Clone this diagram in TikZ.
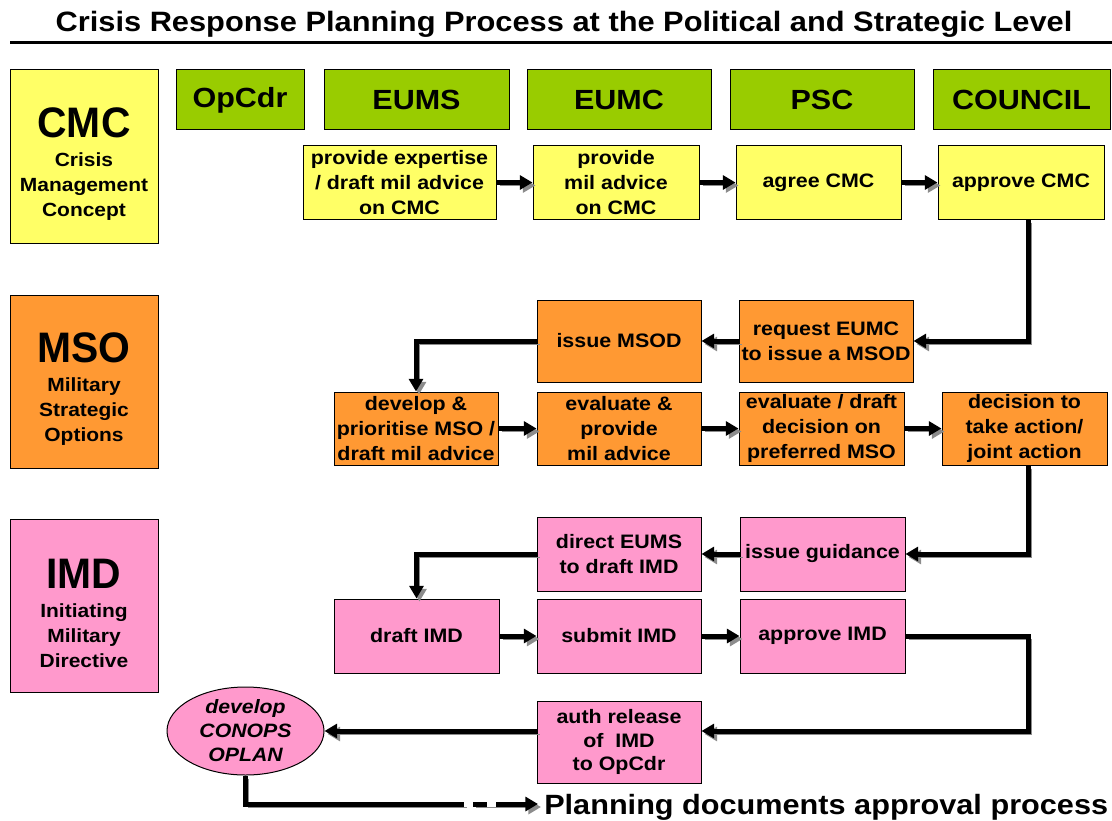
\documentclass[tikz,border=0pt]{standalone}
\usepackage{graphicx}
\usepackage{fontspec}
\setmainfont{Liberation Sans}[FakeStretch=1.1]
\usetikzlibrary{arrows.meta,calc,shapes.geometric}
\definecolor{cyel}{HTML}{FFFF66}
\definecolor{cgrn}{HTML}{99CC00}
\definecolor{corg}{HTML}{FF9933}
\definecolor{cpnk}{HTML}{FF99CC}
\definecolor{cshd}{HTML}{8C8C8C}
\newcommand{\biglab}[1]{\rule{0pt}{34pt}\scalebox{0.87}[1]{\fontsize{32}{32}\selectfont #1}}
\begin{document}
\begin{tikzpicture}[x=0.75pt,y=-0.75pt,
 every node/.style={inner sep=0pt, text=black},
 sz/.style 2 args={minimum width=#1*0.75pt, minimum height=#2*0.75pt},
 box/.style={draw=black, line width=0.75pt, align=center, font=\bfseries\fontsize{14.6}{18.75}\selectfont},
 ybox/.style={box, fill=cyel},
 obox/.style={box, fill=corg},
 pbox/.style={box, fill=cpnk},
 hbox/.style={draw=black, line width=0.75pt, fill=cgrn, font=\bfseries\fontsize{20.8}{24}\selectfont},
 lbox/.style={draw=black, line width=0.75pt, align=center, font=\bfseries\fontsize{14.3}{18.75}\selectfont},
 wire/.style={line width=3.75pt, preaction={draw=cshd, transform canvas={shift={(2.25pt,-2.25pt)}}}},
 conn/.style={wire, -{Triangle[length=9.5pt,width=10.5pt]}},
]
\useasboundingbox (0,0) rectangle (1112,820);

% title
\node[anchor=base, font=\bfseries\fontsize{21}{24}\selectfont] (title) at (564,31.7) {Crisis Response Planning Process at the Political and Strategic Level};
\draw[line width=2.25pt] (10,43) -- (1112,43);

% left column
\node[lbox, fill=cyel, sz={148}{173}] (lcmc) at (84,156.5) {\biglab{CMC}\\[3pt]Crisis\\Management\\Concept};
\node[lbox, fill=corg, sz={148}{173}] (lmso) at (84,381.5) {\biglab{MSO}\\[3pt]Military\\Strategic\\Options};
\node[lbox, fill=cpnk, sz={148}{173}] (limd) at (84,605.5) {\biglab{IMD}\\[3pt]Initiating\\Military\\Directive};

% headers
\node[hbox, sz={128}{60}] (hop) at (240,100) {OpCdr};
\node[hbox, sz={185}{60}] (heums) at (416.5,100) {EUMS};
\node[hbox, sz={184}{60}] (heumc) at (619,100) {EUMC};
\node[hbox, sz={184}{60}] (hpsc) at (822,100) {PSC};
\node[hbox, sz={177}{60}] (hcou) at (1021.5,100) {COUNCIL};

% row 1
\node[ybox, sz={193}{73}] (r1a) at (399.5,182.5) {provide expertise\\/ draft mil advice\\on CMC};
\node[ybox, sz={166}{73}] (r1b) at (616,182.5) {provide\\mil advice\\on CMC};
\node[ybox, sz={165}{73}] (r1c) at (818.5,182.5) {agree CMC};
\node[ybox, sz={166}{73}] (r1d) at (1021,182.5) {approve CMC};

% row 2
\node[obox, sz={164}{82}] (msod) at (619,341) {issue MSOD};
\node[obox, sz={174}{82}] (req) at (826,341) {request EUMC\\to issue a MSOD};

% row 3
\node[obox, sz={164}{73}] (dev) at (416,428.5) {develop \&\\prioritise MSO /\\draft mil advice};
\node[obox, sz={164}{73}] (ev1) at (619,428.5) {evaluate \&\\provide\\mil advice};
\node[obox, sz={165}{73}] (ev2) at (821.5,428.5) {evaluate / draft\\decision on\\preferred MSO};
\node[obox, sz={165}{73}] (dec) at (1024.5,428.5) {decision to\\take action/\\joint action};

% row 4
\node[pbox, sz={164}{74}] (dir) at (619,554) {direct EUMS\\to draft IMD};
\node[pbox, sz={165}{74}] (guid) at (822.5,554) {issue guidance};

% row 5
\node[pbox, sz={165}{74}] (dimd) at (416.5,636) {draft IMD};
\node[pbox, sz={164}{74}] (simd) at (619,636) {submit IMD};
\node[pbox, sz={165}{74}] (aimd) at (822.5,636) {approve IMD};

% row 6
\node[pbox, sz={164}{82}, font=\bfseries\fontsize{14.6}{17.6}\selectfont] (auth) at (619,742) {auth release\\of~ IMD\\to OpCdr};
\node[ellipse, draw=black, line width=0.75pt, fill=cpnk, sz={157}{88}] (ell) at (245.5,731) {};
\node[align=center, font=\bfseries\itshape\fontsize{14.5}{18}\selectfont] (elltxt) at (ell.center) {develop\\CONOPS\\OPLAN};

\node[anchor=base west, font=\bfseries\fontsize{20.9}{24}\selectfont] (plan) at (544,814) {Planning documents approval process};

% connectors
\draw[conn] (r1a.east) -- (r1b.west);
\draw[conn] (r1b.east) -- (r1c.west);
\draw[conn] (r1c.east) -- (r1d.west);
\draw[conn] ($(r1d.south)+(7,0)$) |- (req.east);
\draw[conn] (req.west) -- (msod.east);
\draw[conn] (msod.west) -| (dev.north);
\draw[conn] (dev.east) -- (ev1.west);
\draw[conn] (ev1.east) -- (ev2.west);
\draw[conn] (ev2.east) -- (dec.west);
\draw[conn] ($(dec.south)+(3.5,0)$) |- (guid.east);
\draw[conn] (guid.west) -- (dir.east);
\draw[conn] (dir.west) -| (dimd.north);
\draw[conn] (dimd.east) -- (simd.west);
\draw[conn] (simd.east) -- (aimd.west);
\coordinate (b3) at (1028,636);
\draw[conn] (aimd.east) -- (b3) |- (auth.east |- ell.east);
\draw[conn] (auth.west |- ell.east) -- (ell.east);
\coordinate (d0) at (464,804);
\coordinate (d1) at (473,804);
\coordinate (dend) at (538,804);
\draw[wire] (ell.south) |- (d0);
\draw[conn, dash pattern=on 10.5pt off 6.75pt on 80pt off 1pt] (d1) -- (dend);
\end{tikzpicture}
\end{document}
